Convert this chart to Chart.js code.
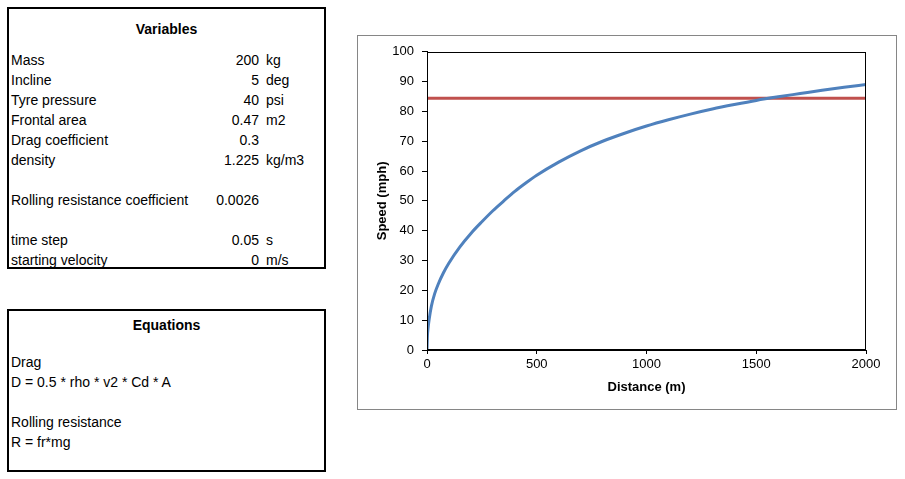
<!DOCTYPE html>
<html>
<head>
<meta charset="utf-8">
<script src="https://cdn.jsdelivr.net/npm/chart.js@4.4.1/dist/chart.umd.min.js"></script>
<style>
  html, body { margin:0; padding:0; background:#fff; }
  body { width:905px; height:479px; position:relative; overflow:hidden;
         font-family:"Liberation Sans", Arial, sans-serif; font-size:14px; color:#000; }
  .box { position:absolute; border:2px solid #000; box-sizing:border-box; background:#fff; }
  .row { position:absolute; line-height:20px; height:20px; white-space:nowrap; }
  .ttl { font-weight:bold; text-align:center; left:0; right:0; }
  .lbl { left:2px; }
  .val { right:65px; text-align:right; }
  .unit { left:257px; }
  #chartBox { position:absolute; left:357px; top:35px; width:540px; height:375px;
              border:1px solid #868686; box-sizing:border-box; background:#fff; }
  #c { display:block; }
</style>
</head>
<body>
<div class="box" id="vars" style="left:7px;top:7px;width:319px;height:262px;"></div>
<div class="box" id="eqs" style="left:7px;top:309px;width:319px;height:163px;"></div>
<div id="chartBox"><canvas id="c" width="538" height="373"></canvas></div>
<script>
// ---- Data ----
const variableNames = ["Mass","Incline","Tyre pressure","Frontal area","Drag coefficient","density","","Rolling resistance coefficient","","time step","starting velocity"];
const variableValues = ["200","5","40","0.47","0.3","1.225","","0.0026","","0.05","0"];
const variableUnits = ["kg","deg","psi","m2","","kg/m3","","","","s","m/s"];
const equationLines = ["Drag","D = 0.5 * rho * v2 * Cd * A","","Rolling resistance","R = fr*mg"];

const distances = [0, 2, 5, 10, 20, 35, 50, 75, 100, 150, 200, 250, 300, 350, 400, 450, 500, 600, 700, 800, 900, 1000, 1100, 1200, 1300, 1400, 1500, 1600, 1700, 1800, 1900, 2000];
const speedMph  = [0, 4.7, 7.4, 10.4, 14.7, 18.9, 21.9, 25.9, 29.2, 34.6, 39.1, 43.0, 46.7, 50.0, 53.2, 56.0, 58.6, 63.0, 66.8, 70.0, 72.7, 75.1, 77.2, 79.1, 80.8, 82.3, 83.7, 84.9, 86.0, 87.1, 88.1, 89.0];
const limitDistance = [0, 2000];
const limitSpeed = [84.4, 84.4];
const xTicks = [0, 500, 1000, 1500, 2000];
const yTicks = [0, 10, 20, 30, 40, 50, 60, 70, 80, 90, 100];

// ---- Text boxes ----
function addRow(parent, cls, top, text) {
  const d = document.createElement('div');
  d.className = 'row ' + cls;
  d.style.top = top + 'px';
  d.textContent = text;
  parent.appendChild(d);
}
const vars = document.getElementById('vars');
addRow(vars, 'ttl', 10, 'Variables');
variableNames.forEach((n, i) => {
  const top = 40.5 + 20 * i;
  if (n) addRow(vars, 'lbl', top, n);
  if (variableValues[i]) addRow(vars, 'val', top, variableValues[i]);
  if (variableUnits[i]) addRow(vars, 'unit', top, variableUnits[i]);
});
const eqs = document.getElementById('eqs');
addRow(eqs, 'ttl', 3.5, 'Equations');
equationLines.forEach((t, i) => {
  if (t) addRow(eqs, 'lbl', 41 + 20 * i, t);
});

// ---- Chart ----
const frame = {
  id: 'frame',
  afterDatasetsDraw(chart) {
    const a = chart.chartArea, ctx = chart.ctx;
    ctx.save();
    ctx.strokeStyle = '#000';
    ctx.lineWidth = 1;
    ctx.strokeRect(Math.round(a.left) + 0.5, Math.round(a.top) + 0.5,
                   Math.round(a.right - a.left) - 1, Math.round(a.bottom - a.top) - 1);
    ctx.restore();
  }
};

Chart.defaults.font.family = '"Liberation Sans", Arial, sans-serif';
Chart.defaults.color = '#000';

new Chart(document.getElementById('c'), {
  type: 'line',
  data: {
    datasets: [
      {
        data: distances.map((d, i) => ({ x: d, y: speedMph[i] })),
        borderColor: '#4F81BD',
        borderWidth: 3,
        pointRadius: 0,
        cubicInterpolationMode: 'monotone',
        fill: false
      },
      {
        data: limitDistance.map((d, i) => ({ x: d, y: limitSpeed[i] })),
        borderColor: '#C0504D',
        borderWidth: 3,
        pointRadius: 0,
        fill: false
      }
    ]
  },
  options: {
    responsive: false,
    animation: false,
    devicePixelRatio: 1,
    layout: { padding: { left: 0, right: 30, top: 14, bottom: 0 } },
    plugins: { legend: { display: false }, tooltip: { enabled: false } },
    scales: {
      x: {
        type: 'linear', min: 0, max: 2000,
        afterBuildTicks: s => { s.ticks = xTicks.map(v => ({ value: v })); },
        afterFit: s => { s.height = 59; },
        ticks: { font: { size: 13 }, padding: 3, maxRotation: 0, color: '#000', callback: v => String(v) },
        grid: { display: true, drawOnChartArea: false, drawTicks: true, tickLength: 4, color: '#000' },
        border: { display: true, color: '#000', width: 1 },
        title: { display: true, text: 'Distance (m)', font: { size: 13, weight: 'bold' }, padding: { top: 0, bottom: 14 }, color: '#000' }
      },
      y: {
        type: 'linear', min: 0, max: 100,
        afterBuildTicks: s => { s.ticks = yTicks.map(v => ({ value: v })); },
        afterFit: s => { s.width = 69; },
        ticks: { font: { size: 13 }, padding: 8, color: '#000', callback: v => String(v) },
        grid: { display: true, drawOnChartArea: false, drawTicks: true, tickLength: 5, color: '#000' },
        border: { display: true, color: '#000', width: 1 },
        title: { display: true, text: 'Speed (mph)', font: { size: 13, weight: 'bold' }, padding: { top: 17, bottom: 0 }, color: '#000' }
      }
    }
  },
  plugins: [frame]
});
</script>
</body>
</html>
